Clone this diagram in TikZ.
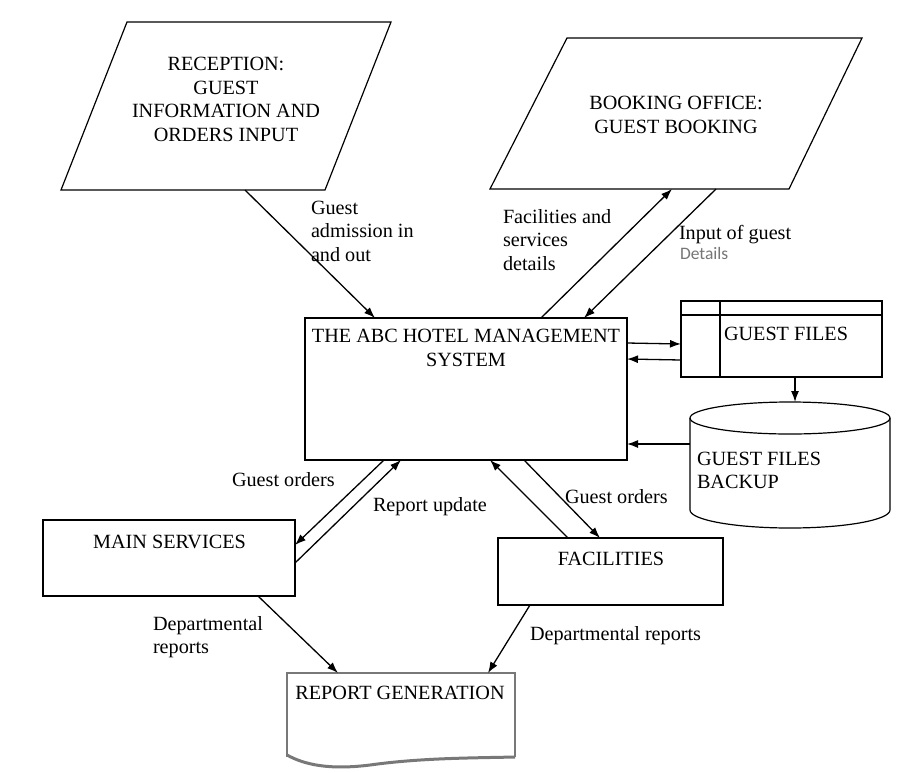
\documentclass[tikz,border=0pt]{standalone}
\usepackage{fontspec}
\setmainfont{Liberation Serif}
\newfontfamily\detailsfont{Carlito}
\usetikzlibrary{arrows.meta,calc}
\definecolor{detgray}{RGB}{118,118,118}
\definecolor{repgray}{RGB}{120,120,120}
\begin{document}
\begin{tikzpicture}[x=1pt,y=-1pt,
  every node/.style={inner sep=0pt,outer sep=0pt,font=\fontsize{20.2}{23.5}\selectfont},
  boxshape/.style={draw,line width=1.2pt,rectangle},
  ghost/.style={rectangle},
  flow/.style={line width=1.3pt,-{Latex[length=11pt,width=8pt]}},
  caps/.style={align=center,anchor=north},
  lbl/.style={align=left,anchor=north west},
  lblone/.style={anchor=base west}]
\useasboundingbox (0,0) rectangle (918,772);
\fill[white] (0,0) rectangle (918,772);

% reception parallelogram
\draw[line width=1.2pt] (127,22) -- (391,22) -- (325,190) -- (61,190) -- cycle;
\node[caps] (receptxt) at (226,57.5) {RECEPTION:\\GUEST\\INFORMATION AND\\ORDERS INPUT};
\coordinate (recepOut) at (245,190);

% booking parallelogram
\draw[line width=1.2pt] (567,38) -- (862,38) -- (789,189) -- (490,189) -- cycle;
\node[caps] (booktxt) at (676,96.5) {BOOKING OFFICE:\\GUEST BOOKING};
\coordinate (bookIn) at (672,189);
\coordinate (bookOut) at (716,189);

% main system
\node[boxshape,minimum width=322pt,minimum height=142pt] (sys) at (466,389) {};
\node[caps] (systxt) at (466,329.5) {THE ABC HOTEL MANAGEMENT\\SYSTEM};

% guest files
\node[boxshape,minimum width=201pt,minimum height=76pt] (gf) at (781.5,339) {};
\draw[line width=1.2pt] ($(gf.north west)+(0,14)$) -- ($(gf.north east)+(0,14)$);
\draw[line width=1.2pt] ($(gf.north west)+(39,0)$) -- ($(gf.south west)+(39,0)$);
\node[anchor=base] (gftxt) at (786,340) {GUEST FILES};

% cylinder (guest files backup)
\node[ghost,minimum width=200pt,minimum height=126pt] (cyl) at (790,465) {};
\draw[line width=1.2pt] (790,418) ellipse [x radius=100pt, y radius=16pt];
\draw[line width=1.2pt] (690,418) -- (690,510) arc [start angle=180, end angle=360, x radius=100pt, y radius=18pt] -- (890,418);
\node[lbl] (cyltxt) at (697,452) {GUEST FILES\\BACKUP};

% main services
\node[boxshape,minimum width=252pt,minimum height=76pt] (ms) at (169,558) {};
\node[anchor=base] (mstxt) at (169.5,548) {MAIN SERVICES};

% facilities
\node[boxshape,minimum width=225pt,minimum height=67pt] (fac) at (610.5,571.5) {};
\node[anchor=base] (factxt) at (611,565) {FACILITIES};

% report generation (document shape)
\node[ghost,minimum width=228pt,minimum height=84pt] (rep) at (401,715) {};
\draw[repgray,line width=1.4pt] (287,757) -- (287,673) -- (515,673) -- (515,757);
\draw[repgray,line width=3pt] (287,755) .. controls (305,765) and (330,770) .. (370,765) .. controls (420,758) and (470,758) .. (515,757);
\node[anchor=base] (reptxt) at (400,699) {REPORT GENERATION};

% connectors
\draw[flow] (recepOut) -- ($(sys.north west)+(70,0)$);
\draw[flow] ($(sys.north west)+(236,0)$) -- (bookIn);
\draw[flow] (bookOut) -- ($(sys.north west)+(279,0)$);
\draw[flow] ($(sys.north east)+(0,25)$) -- ($(gf.north west)+(0,43)$);
\draw[flow] ($(gf.north west)+(0,59)$) -- ($(sys.north east)+(0,41)$);
\draw[flow] ($(gf.south west)+(114,0)$) -- ($(cyl.north west)+(105,0)$);
\draw[flow] ($(cyl.north west)+(0,42)$) -- ($(sys.north east)+(0,126)$);
\draw[flow] ($(sys.south west)+(79,0)$) -- ($(ms.north east)+(0,25)$);
\draw[flow] ($(ms.north east)+(0,43)$) -- ($(sys.south west)+(96,0)$);
\draw[flow] ($(fac.north west)+(70,0)$) -- ($(sys.south west)+(185,0)$);
\draw[flow] ($(sys.south west)+(219,0)$) -- ($(fac.north west)+(102,0)$);
\draw[flow] ($(ms.south west)+(215,0)$) -- ($(rep.north west)+(51,0)$);
\draw[flow] ($(fac.south west)+(32,0)$) -- ($(rep.north west)+(201,0)$);

% labels
\node[lbl] (l1) at (311,201) {Guest\\admission in\\and out};
\node[lbl] (l2) at (503,209) {Facilities and\\services\\details};
\node[lblone] (l3) at (679,239) {Input of guest};
\node[anchor=base west,font=\detailsfont\fontsize{17.5}{20}\selectfont,text=detgray] (l4) at (680,259.5) {Details};
\node[lblone] (l5) at (232,486) {Guest orders};
\node[lblone] (l6) at (373,511) {Report update};
\node[lblone] (l7) at (565,503) {Guest orders};
\node[lbl] (l8) at (153,616) {Departmental\\reports};
\node[lblone] (l9) at (530,640) {Departmental reports};
\end{tikzpicture}
\end{document}
